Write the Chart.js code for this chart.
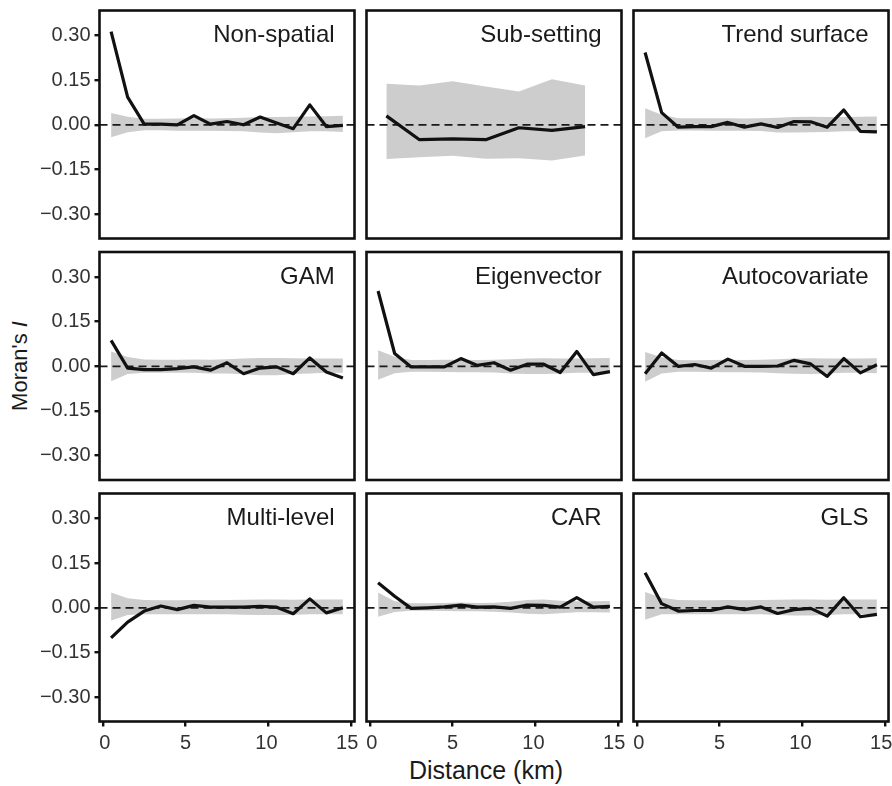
<!DOCTYPE html>
<html>
<head>
<meta charset="utf-8">
<script src="https://cdn.jsdelivr.net/npm/chart.js@4.4.1/dist/chart.umd.min.js"></script>
<style>
	html, body { margin: 0; padding: 0; background: #fff; }
	#wrap { position: relative; width: 892px; height: 786px; overflow: hidden; font-family: "Liberation Sans", Arial, sans-serif; color: #1a1a1a; }
	#wrap canvas { position: absolute; left: -60px; top: -60px; }
	.axis-title { position: absolute; font-size: 22px; line-height: 22px; white-space: nowrap; }
	#ytitle { left: 20px; top: 366px; transform: translate(-50%, -50%) rotate(-90deg); }
	#xtitle { left: 486px; top: 770px; transform: translate(-50%, -50%); font-size: 25px; line-height: 25px; }
</style>
</head>
<body>
<div id="wrap">
	<div id="ytitle" class="axis-title">Moran's <i>I</i></div>
	<div id="xtitle" class="axis-title">Distance (km)</div>
</div>
<script>

// distance classes (km) and the coarser ones used by sub-setting
const distance = [0.5, 1.5, 2.5, 3.5, 4.5, 5.5, 6.5, 7.5, 8.5, 9.5, 10.5, 11.5, 12.5, 13.5, 14.5];
const subDistance = [1, 3, 5, 7, 9, 11, 13];

const xTicks = [0, 5, 10, 15];
const xTickLabels = ['\u20090', '5', '10\u2009', '15\u2009\u2009'];
const yTicks = [-0.30, -0.15, 0, 0.15, 0.30];

const panelNames = ['Non-spatial', 'Sub-setting', 'Trend surface', 'GAM', 'Eigenvector', 'Autocovariate', 'Multi-level', 'CAR', 'GLS'];

// Moran's I of the residuals
const nonSpatial = [0.313, 0.093, 0.002, 0.002, 0.000, 0.031, 0.002, 0.011, 0.000, 0.026, 0.006, -0.013, 0.067, -0.006, -0.002];
const subSetting = [0.030, -0.050, -0.047, -0.050, -0.010, -0.019, -0.006];
const trendSurface = [0.243, 0.041, -0.008, -0.006, -0.006, 0.008, -0.008, 0.003, -0.009, 0.011, 0.010, -0.008, 0.050, -0.022, -0.024];
const gam = [0.087, -0.006, -0.011, -0.011, -0.008, -0.002, -0.013, 0.012, -0.025, -0.006, -0.002, -0.025, 0.028, -0.019, -0.039];
const eigenvector = [0.253, 0.043, -0.002, -0.002, -0.002, 0.026, 0.003, 0.012, -0.013, 0.007, 0.007, -0.021, 0.050, -0.028, -0.018];
const autocovariate = [-0.025, 0.045, 0.000, 0.006, -0.006, 0.024, 0.000, 0.000, 0.001, 0.020, 0.008, -0.034, 0.026, -0.022, 0.005];
const multiLevel = [-0.101, -0.048, -0.011, 0.006, -0.006, 0.008, 0.002, 0.002, 0.002, 0.005, 0.002, -0.020, 0.030, -0.017, 0.000];
const car = [0.084, 0.039, -0.002, 0.000, 0.003, 0.009, 0.002, 0.003, -0.002, 0.009, 0.008, 0.002, 0.034, 0.002, 0.005];
const gls = [0.118, 0.014, -0.011, -0.009, -0.009, 0.003, -0.006, 0.003, -0.019, -0.006, -0.002, -0.028, 0.034, -0.030, -0.022];

// null envelopes (upper / lower)
const nonSpatialHi = [0.040, 0.027, 0.020, 0.020, 0.021, 0.022, 0.021, 0.022, 0.024, 0.026, 0.026, 0.027, 0.028, 0.029, 0.030];
const nonSpatialLo = [-0.042, -0.025, -0.018, -0.018, -0.020, -0.020, -0.020, -0.021, -0.022, -0.026, -0.028, -0.025, -0.022, -0.022, -0.024];
const subSettingHi = [0.138, 0.132, 0.146, 0.129, 0.112, 0.153, 0.132];
const subSettingLo = [-0.115, -0.109, -0.104, -0.114, -0.112, -0.120, -0.103];
const trendSurfaceHi = [0.056, 0.034, 0.022, 0.022, 0.022, 0.022, 0.021, 0.022, 0.024, 0.026, 0.027, 0.026, 0.026, 0.027, 0.028];
const trendSurfaceLo = [-0.045, -0.022, -0.019, -0.019, -0.020, -0.020, -0.020, -0.021, -0.026, -0.026, -0.025, -0.024, -0.022, -0.022, -0.024];
const gamHi = [0.050, 0.031, 0.023, 0.022, 0.022, 0.023, 0.022, 0.024, 0.026, 0.028, 0.028, 0.027, 0.026, 0.026, 0.026];
const gamLo = [-0.050, -0.026, -0.022, -0.022, -0.022, -0.022, -0.024, -0.024, -0.027, -0.030, -0.030, -0.026, -0.024, -0.022, -0.022];
const eigenvectorHi = [0.054, 0.032, 0.021, 0.021, 0.022, 0.022, 0.021, 0.022, 0.024, 0.026, 0.027, 0.026, 0.026, 0.027, 0.028];
const eigenvectorLo = [-0.045, -0.023, -0.018, -0.018, -0.019, -0.020, -0.020, -0.021, -0.024, -0.026, -0.026, -0.024, -0.022, -0.022, -0.023];
const autocovariateHi = [0.048, 0.030, 0.021, 0.020, 0.021, 0.022, 0.021, 0.022, 0.024, 0.026, 0.027, 0.026, 0.026, 0.026, 0.027];
const autocovariateLo = [-0.052, -0.024, -0.018, -0.018, -0.019, -0.020, -0.020, -0.021, -0.023, -0.025, -0.026, -0.024, -0.022, -0.022, -0.023];
const multiLevelHi = [0.051, 0.032, 0.026, 0.025, 0.025, 0.026, 0.025, 0.026, 0.027, 0.028, 0.028, 0.027, 0.028, 0.028, 0.028];
const multiLevelLo = [-0.043, -0.024, -0.022, -0.022, -0.022, -0.022, -0.022, -0.022, -0.023, -0.024, -0.024, -0.023, -0.022, -0.022, -0.022];
const carHi = [0.051, 0.022, 0.015, 0.015, 0.016, 0.018, 0.016, 0.017, 0.020, 0.026, 0.028, 0.024, 0.022, 0.022, 0.023];
const carLo = [-0.030, -0.014, -0.010, -0.010, -0.011, -0.012, -0.012, -0.013, -0.016, -0.020, -0.022, -0.018, -0.015, -0.015, -0.016];
const glsHi = [0.053, 0.034, 0.026, 0.025, 0.025, 0.026, 0.025, 0.026, 0.027, 0.028, 0.028, 0.027, 0.028, 0.028, 0.028];
const glsLo = [-0.040, -0.022, -0.022, -0.022, -0.022, -0.022, -0.022, -0.022, -0.024, -0.026, -0.026, -0.024, -0.022, -0.022, -0.022];


const panels = [
	{x: distance, y: nonSpatial, hi: nonSpatialHi, lo: nonSpatialLo},
	{x: subDistance, y: subSetting, hi: subSettingHi, lo: subSettingLo},
	{x: distance, y: trendSurface, hi: trendSurfaceHi, lo: trendSurfaceLo},
	{x: distance, y: gam, hi: gamHi, lo: gamLo},
	{x: distance, y: eigenvector, hi: eigenvectorHi, lo: eigenvectorLo},
	{x: distance, y: autocovariate, hi: autocovariateHi, lo: autocovariateLo},
	{x: distance, y: multiLevel, hi: multiLevelHi, lo: multiLevelLo},
	{x: distance, y: car, hi: carHi, lo: carLo},
	{x: distance, y: gls, hi: glsHi, lo: glsLo}
];

// facet layout (page pixels); canvases overhang the page by OFF on every side
const OFF = 60;
const CANVAS_W = 892 + 2 * OFF, CANVAS_H = 786 + 2 * OFF;
const colLeft = [99.5, 366.5, 633.5];
const rowTop = [10.5, 252, 493.5];
const PANEL_W = 255, PANEL_H = 228;
const Y_AXIS_W = 70, X_AXIS_H = 50;

const FONT = "'Liberation Sans', Arial, sans-serif";
const RIBBON = '#cdcdcd';
const INK = '#111111';

Chart.defaults.font.family = FONT;


const panelDeco = {
	id: 'panelDeco',

	// dashed zero line, over the envelope and under the curve
	beforeDatasetDraw(chart, args) {
		if(args.index !== 0) {
			return;
		}
		const ctx = chart.ctx;
		const area = chart.chartArea;
		const y0 = chart.scales.y.getPixelForValue(0);

		ctx.save();
		ctx.beginPath();
		ctx.setLineDash([8, 5]);
		ctx.lineWidth = 1.8;
		ctx.strokeStyle = '#1a1a1a';
		ctx.moveTo(area.left, y0);
		ctx.lineTo(area.right, y0);
		ctx.stroke();
		ctx.restore();
	},

	afterDraw(chart, args, opts) {
		const ctx = chart.ctx;
		const area = chart.chartArea;

		ctx.save();
		ctx.font = '24px ' + FONT;
		ctx.fillStyle = '#1a1a1a';
		ctx.textAlign = 'right';
		ctx.textBaseline = 'middle';
		ctx.fillText(opts.title, chart.scales.x.getPixelForValue(14), chart.scales.y.getPixelForValue(0.30));

		ctx.lineWidth = 2.6;
		ctx.strokeStyle = INK;
		ctx.strokeRect(area.left, area.top, area.right - area.left, area.bottom - area.top);
		ctx.restore();
	}
};


function points(xs, ys) {
	return xs.map(function(x, i) {
		return {x: x, y: ys[i]};
	});
}


function makePanel(index) {
	const col = index % 3;
	const row = Math.floor(index / 3);
	const first = col === 0;
	const last = row === 2;
	const p = panels[index];

	const canvas = document.createElement('canvas');
	canvas.width = CANVAS_W;
	canvas.height = CANVAS_H;
	document.getElementById('wrap').appendChild(canvas);

	const axisGrid = {
		drawOnChartArea: false,
		drawTicks: true,
		tickLength: 5,
		color: INK,
		lineWidth: 2.4
	};

	// datasets are painted last-to-first: envelope below, curve on top
	new Chart(canvas.getContext('2d'), {
		type: 'line',
		data: {
			datasets: [
				{data: points(p.x, p.y), fill: false, borderColor: INK, borderWidth: 3.2, pointRadius: 0,
					borderJoinStyle: 'round', tension: 0},
				{data: points(p.x, p.hi), fill: '+1', backgroundColor: RIBBON, borderColor: 'transparent', borderWidth: 0, pointRadius: 0},
				{data: points(p.x, p.lo), fill: false, borderColor: 'transparent', borderWidth: 0, pointRadius: 0}
			]
		},
		options: {
			responsive: false,
			animation: false,
			events: [],
			layout: {
				padding: {
					left: OFF + colLeft[col] - (first ? Y_AXIS_W : 0),
					top: OFF + rowTop[row],
					right: CANVAS_W - OFF - colLeft[col] - PANEL_W,
					bottom: CANVAS_H - OFF - rowTop[row] - PANEL_H - (last ? X_AXIS_H : 0)
				}
			},
			plugins: {
				legend: {display: false},
				tooltip: {enabled: false},
				panelDeco: {title: panelNames[index]}
			},
			scales: {
				x: {
					type: 'linear',
					min: -0.2,
					max: 15.2,
					display: last,
					afterBuildTicks: function(scale) {
						scale.ticks = xTicks.map(function(v) { return {value: v}; });
					},
					afterFit: function(scale) {
						scale.height = last ? X_AXIS_H : 0;
					},
					grid: axisGrid,
					border: {display: false},
					ticks: {
						color: '#333',
						font: {size: 20},
						padding: 5,
						maxRotation: 0,
						callback: function(v, i) { return xTickLabels[i]; }
					}
				},
				y: {
					type: 'linear',
					min: -0.382,
					max: 0.384,
					display: first,
					afterBuildTicks: function(scale) {
						scale.ticks = yTicks.map(function(v) { return {value: v}; });
					},
					afterFit: function(scale) {
						scale.width = first ? Y_AXIS_W : 0;
					},
					grid: axisGrid,
					border: {display: false},
					ticks: {
						color: '#333',
						font: {size: 20},
						padding: 4,
						callback: function(v) { return v.toFixed(2).replace('-', '\u2212'); }
					}
				}
			}
		},
		plugins: [panelDeco]
	});
}


for(let i = 0; i < panels.length; i++) {
	makePanel(i);
}

</script>
</body>
</html>
